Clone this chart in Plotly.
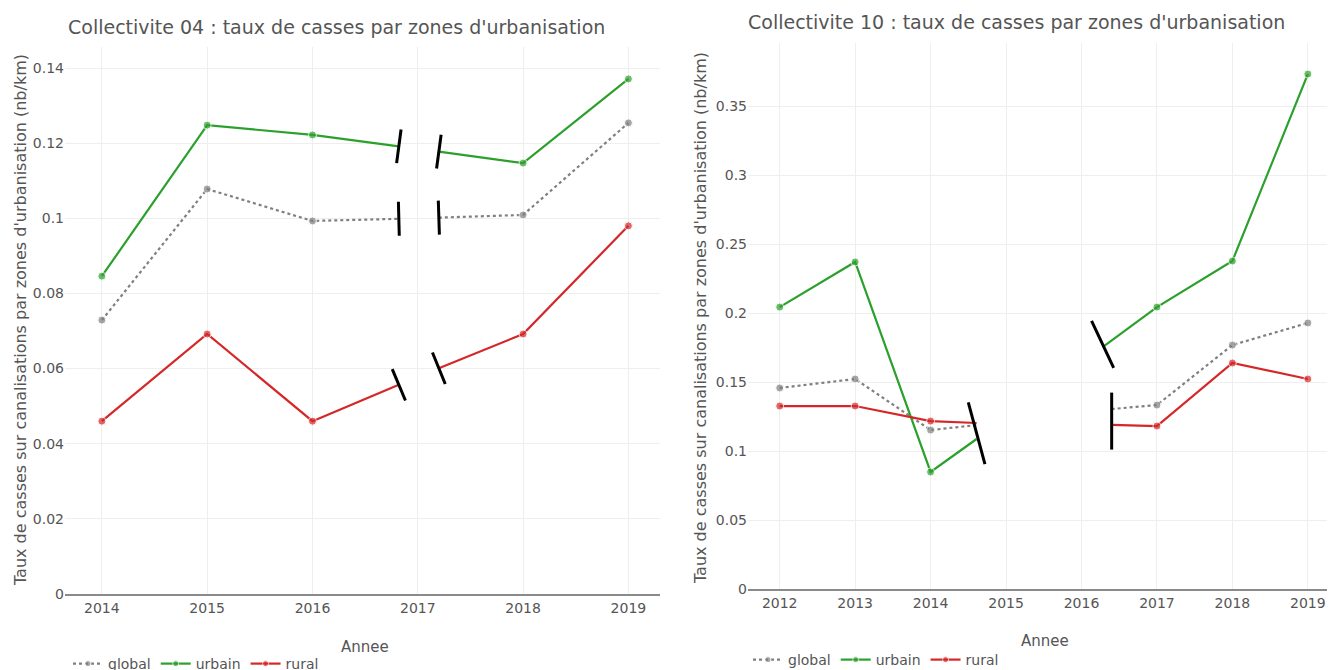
import plotly.graph_objects as go

# ---------------- DATA ----------------
years_04 = [2014, 2015, 2016, 2017, 2018, 2019]
global_04 = [0.0729, 0.1078, 0.0993, 0.1000, 0.1009, 0.1254]
urbain_04 = [0.0846, 0.1248, 0.1222, 0.1185, 0.1147, 0.1371]
rural_04 = [0.0460, 0.0692, 0.0460, 0.0578, 0.0692, 0.0980]

years_10 = [2012, 2013, 2014, 2015, 2016, 2017, 2018, 2019]
global_10 = [0.1457, 0.1522, 0.1152, 0.1211, 0.1285, 0.1333, 0.1768, 0.1928]
urbain_10 = [0.2043, 0.2370, 0.0848, 0.1240, 0.1640, 0.2043, 0.2377, 0.3732]
rural_10 = [0.1326, 0.1326, 0.1217, 0.1194, 0.1195, 0.1181, 0.1638, 0.1522]

title_04 = "Collectivite 04 : taux de casses par zones d'urbanisation"
title_10 = "Collectivite 10 : taux de casses par zones d'urbanisation"
ytitle = "Taux de casses sur canalisations par zones d'urbanisation (nb/km)"
xtitle = "Annee"
ticks_y04 = [0, 0.02, 0.04, 0.06, 0.08, 0.1, 0.12, 0.14]
ticks_y10 = [0, 0.05, 0.1, 0.15, 0.2, 0.25, 0.3, 0.35]

# -------------- LAYOUT GEOMETRY (screen pixels) --------------
SW, SH = 1335, 670
OFF = 8  # default page body margin
# paper is a bit taller than the window so the bottom legend stays inside it
W, H = SW - OFF, 700

L_px = dict(x0=65, x1=660, y0=594, y1=47)
L_rng = dict(x=[2013.65, 2019.30], y=[0, 0.1456])
R_px = dict(x0=748, x1=1335, y0=589, y1=43)
R_rng = dict(x=[2011.58, 2019.36], y=[0, 0.3957])

GREEN = "#2ca02c"
RED = "#d62728"
GREY = "#7f7f7f"
FONT = "DejaVu Sans"
TXT = "#555"


def px_x(X):
    return (X - OFF) / W


def px_y(Y):
    return 1 - (Y - OFF) / H


def to_px(px, rng, x, y):
    fx = (x - rng["x"][0]) / (rng["x"][1] - rng["x"][0])
    fy = (y - rng["y"][0]) / (rng["y"][1] - rng["y"][0])
    return px["x0"] + fx * (px["x1"] - px["x0"]), px["y0"] + fy * (px["y1"] - px["y0"])


def to_data(px, rng, X, Y):
    fx = (X - px["x0"]) / (px["x1"] - px["x0"])
    fy = (Y - px["y0"]) / (px["y1"] - px["y0"])
    return rng["x"][0] + fx * (rng["x"][1] - rng["x"][0]), rng["y"][0] + fy * (rng["y"][1] - rng["y"][0])


def interp(xs, ys, x):
    for i in range(len(xs) - 1):
        if xs[i] <= x <= xs[i + 1]:
            t = (x - xs[i]) / (xs[i + 1] - xs[i])
            return ys[i] + t * (ys[i + 1] - ys[i])
    return ys[-1]


def split(xs, ys, g0, g1):
    a_x = [x for x in xs if x < g0] + [g0]
    a_y = [y for x, y in zip(xs, ys) if x < g0] + [interp(xs, ys, g0)]
    b_x = [g1] + [x for x in xs if x > g1]
    b_y = [interp(xs, ys, g1)] + [y for x, y in zip(xs, ys) if x > g1]
    return (a_x, a_y), (b_x, b_y)


fig = go.Figure()
shapes = []


def mark(px, rng, xref, yref, cx, cy, ux, uy, length):
    X, Y = to_px(px, rng, cx, cy)
    n = (ux ** 2 + uy ** 2) ** 0.5
    ux, uy = ux / n, uy / n
    xa, ya = to_data(px, rng, X - ux * length / 2, Y - uy * length / 2)
    xb, yb = to_data(px, rng, X + ux * length / 2, Y + uy * length / 2)
    shapes.append(dict(type="line", xref=xref, yref=yref, x0=xa, y0=ya, x1=xb, y1=yb,
                       line=dict(color="black", width=3)))


def add_series(xs, ys, name, color, dash, xaxis, yaxis, legend, gap):
    segs = split(xs, ys, gap[0], gap[1])
    for k, (sx, sy) in enumerate(segs):
        sizes = [0 if (x not in xs) else 8 for x in sx]
        fig.add_trace(go.Scatter(
            x=sx, y=sy, mode="lines+markers", name=name,
            line=dict(color=color, width=2.2, dash=dash),
            marker=dict(color=color, size=sizes),
            xaxis=xaxis, yaxis=yaxis, legend=legend,
            showlegend=(k == 0), legendgroup=legend + name, hoverinfo="skip"))


# ---------------- LEFT PANEL ----------------
G04 = (2016.82, 2017.20)
series_04 = [("global", global_04, GREY, "dot"), ("urbain", urbain_04, GREEN, "solid"),
             ("rural", rural_04, RED, "solid")]
for name, ys, col, dash in series_04:
    add_series(years_04, ys, name, col, dash, "x", "y", "legend", G04)
    for gx, (xa, xb) in [(G04[0], (2016, 2017)), (G04[1], (2017, 2018))]:
        ya, yb = interp(years_04, ys, xa), interp(years_04, ys, xb)
        Pa = to_px(L_px, L_rng, xa, ya)
        Pb = to_px(L_px, L_rng, xb, yb)
        dx, dy = Pb[0] - Pa[0], Pb[1] - Pa[1]
        mark(L_px, L_rng, "x", "y", gx, interp(years_04, ys, gx), -dy, dx, 34)

# ---------------- RIGHT PANEL ----------------
G10_a = (2014.61, 2016.40)
G10_b = (2014.61, 2016.28)
series_10 = [("global", global_10, GREY, "dot", G10_a), ("urbain", urbain_10, GREEN, "solid", G10_b),
             ("rural", rural_10, RED, "solid", G10_a)]
for name, ys, col, dash, gp in series_10:
    add_series(years_10, ys, name, col, dash, "x2", "y2", "legend2", gp)

ys_start = [interp(years_10, s[1], G10_a[0]) for s in series_10]
mark(R_px, R_rng, "x2", "y2", G10_a[0], sum(ys_start) / 3 - 0.003, 0.27, 1, 64)
mark(R_px, R_rng, "x2", "y2", G10_b[1], interp(years_10, urbain_10, G10_b[1]) + 0.002, 0.47, 1, 52)
ys_end = [interp(years_10, global_10, G10_a[1]), interp(years_10, rural_10, G10_a[1])]
mark(R_px, R_rng, "x2", "y2", G10_a[1], sum(ys_end) / 2 - 0.003, 0, 1, 57)


def xaxis_cfg(px, rng, ticks):
    return dict(domain=[px_x(px["x0"]), min(1.0, px_x(px["x1"]))], range=rng["x"], tickvals=ticks,
                ticktext=[str(t) for t in ticks], showgrid=True, gridcolor="#eeeeee",
                gridwidth=1, zeroline=False, showline=True, linecolor="#8a8a8a", linewidth=2,
                ticks="", tickfont=dict(family=FONT, size=14, color=TXT), fixedrange=True,
                automargin=False)


def yaxis_cfg(px, rng, anchor, ticks):
    return dict(domain=[px_y(px["y0"]), px_y(px["y1"])], range=rng["y"], anchor=anchor,
                tickvals=ticks, ticktext=[("%g" % t) for t in ticks], showgrid=True,
                gridcolor="#eeeeee", gridwidth=1, zeroline=False, showline=False,
                tickfont=dict(family=FONT, size=14, color=TXT), ticks="", fixedrange=True,
                automargin=False)


def txt(text, X, Y, size, angle=0):
    return dict(text=text, x=px_x(X), y=px_y(Y), xref="paper", yref="paper", showarrow=False,
                textangle=angle, xanchor="center", yanchor="middle",
                font=dict(family=FONT, size=size, color=TXT))


ann = [
    txt(title_04, 336, 27, 19),
    txt(title_10, 1016, 22, 19),
    txt(xtitle, 365, 647, 15),
    txt(xtitle, 1045, 641, 15),
    txt(ytitle, 20, 320, 16, -90),
    txt(ytitle, 700, 318, 16, -90),
]

fig.update_layout(
    width=W, height=H, margin=dict(l=0, r=0, t=0, b=0),
    paper_bgcolor="white", plot_bgcolor="white",
    xaxis=xaxis_cfg(L_px, L_rng, years_04),
    yaxis=yaxis_cfg(L_px, L_rng, "x", ticks_y04),
    xaxis2=xaxis_cfg(R_px, R_rng, years_10) | dict(anchor="y2"),
    yaxis2=yaxis_cfg(R_px, R_rng, "x2", ticks_y10),
    legend=dict(orientation="h", x=px_x(68), y=px_y(664), xanchor="left", yanchor="middle",
                font=dict(family=FONT, size=14, color=TXT), bgcolor="rgba(0,0,0,0)"),
    legend2=dict(orientation="h", x=px_x(748), y=px_y(660), xanchor="left", yanchor="middle",
                 font=dict(family=FONT, size=14, color=TXT), bgcolor="rgba(0,0,0,0)"),
    shapes=shapes, annotations=ann, showlegend=True,
)

fig.write_html("out.html")
